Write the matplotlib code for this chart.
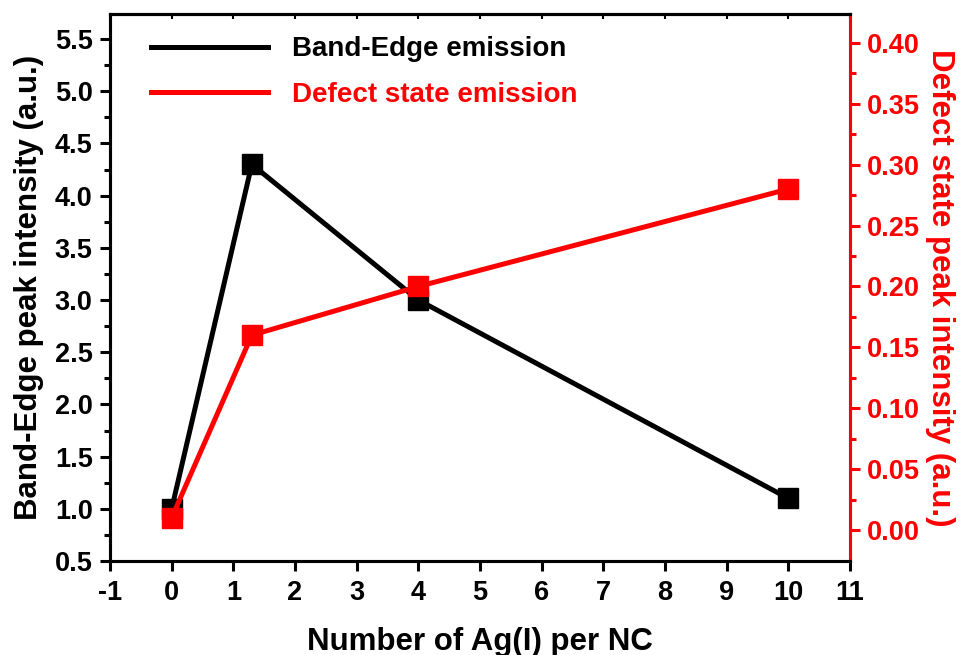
import matplotlib
matplotlib.use("Agg")
import matplotlib.pyplot as plt
from matplotlib.lines import Line2D
import numpy as np

plt.rcParams['font.family'] = ['Liberation Sans', 'DejaVu Sans']
plt.rcParams['font.weight'] = 'bold'

x_vals = [0, 1.3, 4, 10]
band_edge = [1.0, 4.3, 3.0, 1.1]
defect = [0.01, 0.16, 0.20, 0.28]

xticks = list(range(-1, 12))
left_ticks = [0.5, 1.0, 1.5, 2.0, 2.5, 3.0, 3.5, 4.0, 4.5, 5.0, 5.5]
right_ticks = [0.00, 0.05, 0.10, 0.15, 0.20, 0.25, 0.30, 0.35, 0.40]

fig = plt.figure(figsize=(9.62, 6.55), dpi=100)
ax = fig.add_axes([110/962, 1-561/655, 740/962, 547/655])
ax2 = ax.twinx()

ax.plot(x_vals, band_edge, color='black', lw=3.6, marker='s', ms=14, zorder=3)
ax2.plot(x_vals, defect, color='red', lw=3.6, marker='s', ms=14, zorder=3)

ax.set_xlim(-1, 11)
ax.set_ylim(0.5, 5.74)
ax2.set_ylim(-0.0255, 0.4238)

ax.set_xticks(xticks)
ax.set_xticklabels([str(t) for t in xticks])
ax.set_yticks(left_ticks)
ax.set_yticklabels([f"{t:.1f}" for t in left_ticks])
ax.set_yticks(np.arange(0.75, 5.74, 0.5), minor=True)
ax2.set_yticks(right_ticks)
ax2.set_yticklabels([f"{t:.2f}" for t in right_ticks])
ax2.set_yticks(np.arange(0.025, 0.42, 0.05), minor=True)

for a in (ax, ax2):
    for s in a.spines.values():
        s.set_linewidth(2.2)
ax2.spines['right'].set_color('red')

ax.tick_params(axis='both', which='major', labelsize=19.5, width=2.2, length=7.5,
               direction='out', pad=5)
ax.tick_params(axis='y', which='minor', width=2.2, length=4, direction='out')
ax.tick_params(axis='x', which='major', pad=6)
ax2.tick_params(axis='y', which='major', labelsize=19.5, width=2.2, length=7.5,
                colors='red', direction='out', pad=5)
ax2.tick_params(axis='y', which='minor', width=2.2, length=4, colors='red', direction='out')

# small inward ticks on the top spine
sec = ax.secondary_xaxis('top')
sec.set_xticks(xticks)
sec.tick_params(axis='x', direction='in', length=3.5, width=1.5, labeltop=False)
sec.spines['top'].set_linewidth(2.2)

for lab in ax.get_xticklabels() + ax.get_yticklabels() + ax2.get_yticklabels():
    lab.set_fontweight('bold')

ax.set_xlabel('Number of Ag(I) per NC', fontsize=22.5, fontweight='bold', labelpad=15)
ax.set_ylabel('Band-Edge peak intensity (a.u.)', fontsize=22.5, fontweight='bold', labelpad=8)
ax2.set_ylabel('Defect state peak intensity (a.u.)', fontsize=22.5, fontweight='bold',
               color='red', rotation=270, labelpad=25)

handles = [Line2D([], [], color='black', lw=3.6),
           Line2D([], [], color='red', lw=3.6)]
leg = ax.legend(handles, ['Band-Edge emission', 'Defect state emission'],
                loc='upper left', bbox_to_anchor=(0.022, 1.005), frameon=False,
                handlelength=4.2, handletextpad=0.85, labelspacing=0.7,
                prop={'size': 20, 'weight': 'bold'})
for txt, c in zip(leg.get_texts(), ['black', 'red']):
    txt.set_color(c)

fig.savefig('out.png', dpi=100)
